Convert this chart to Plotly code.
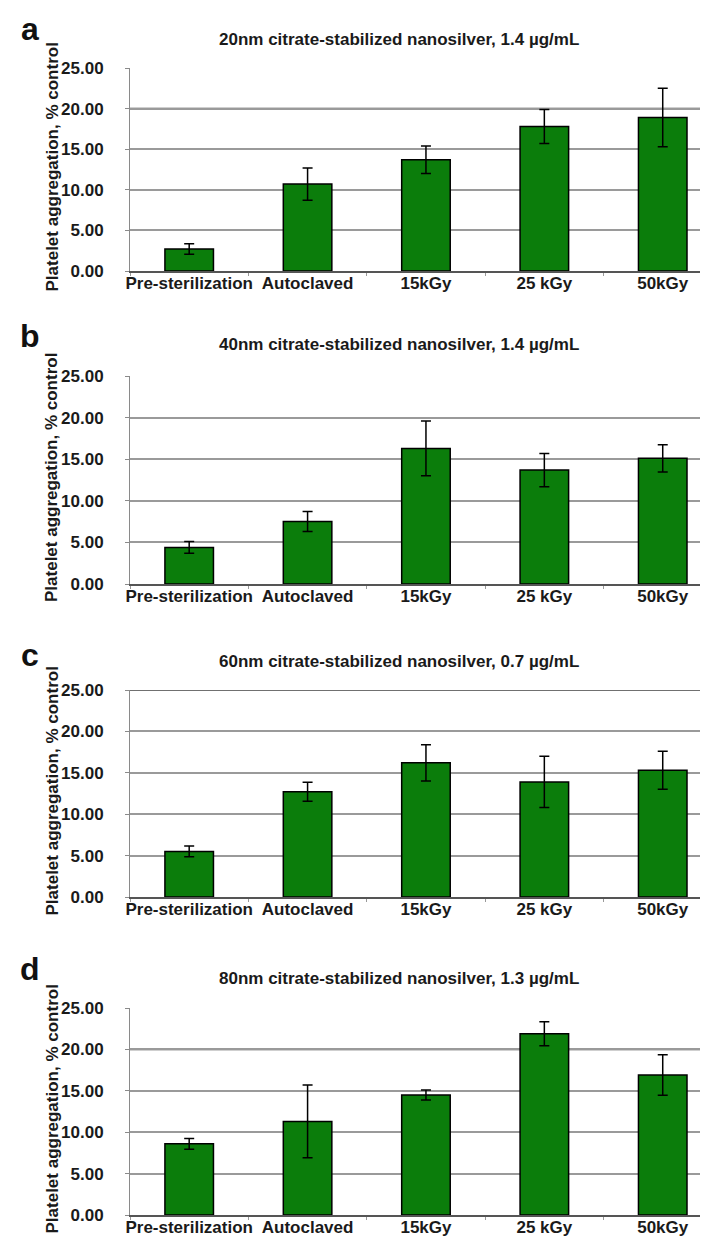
import plotly.graph_objects as go

# ---- data ----
categories = ["Pre-sterilization", "Autoclaved", "15kGy", "25 kGy", "50kGy"]
panel_letters = ["a", "b", "c", "d"]
panel_titles = [
    "20nm citrate-stabilized nanosilver, 1.4 µg/mL",
    "40nm citrate-stabilized nanosilver, 1.4 µg/mL",
    "60nm citrate-stabilized nanosilver, 0.7 µg/mL",
    "80nm citrate-stabilized nanosilver, 1.3 µg/mL",
]
values_a = [2.7, 10.7, 13.7, 17.8, 18.9]
errors_a = [0.65, 2.0, 1.7, 2.1, 3.6]
values_b = [4.4, 7.5, 16.3, 13.7, 15.1]
errors_b = [0.7, 1.2, 3.3, 2.0, 1.65]
values_c = [5.5, 12.7, 16.2, 13.9, 15.3]
errors_c = [0.65, 1.15, 2.2, 3.1, 2.3]
values_d = [8.6, 11.3, 14.5, 21.9, 16.9]
errors_d = [0.65, 4.4, 0.6, 1.45, 2.45]
y_tick_values = [0, 5, 10, 15, 20, 25]
y_tick_labels = ["0.00", "5.00", "10.00", "15.00", "20.00", "25.00"]
y_axis_title = "Platelet aggregation, % control"
dark_gridlines = [[15, 20], [], [10, 25], [15, 20]]

all_values = [values_a, values_b, values_c, values_d]
all_errors = [errors_a, errors_b, errors_c, errors_d]

# ---- layout geometry (pixels) ----
W, H = 708, 1241
plot_left = 122
panel_px = [(60, 263), (368, 576), (682, 889), (1000, 1207)]  # (top, bottom)
title_y_px = [32, 337, 653, 970]
letter_y_px = [21, 328, 647, 961]

FONT = "Liberation Sans, Arial, sans-serif"
BAR_GREEN = "#0b7d0b"

fig = go.Figure()

annotations = []
shapes = []
for i in range(4):
    n = "" if i == 0 else str(i + 1)
    xa = "x" + n
    ya = "y" + n
    top, bot = panel_px[i]
    fig.add_trace(go.Bar(
        x=categories, y=all_values[i],
        xaxis=xa, yaxis=ya,
        marker=dict(color=BAR_GREEN, line=dict(color="black", width=1.5)),
        error_y=dict(type="data", array=all_errors[i], visible=True,
                     color="black", thickness=1.5, width=5),
        showlegend=False,
    ))
    dom_y = [1 - bot / H, 1 - top / H]
    fig.layout["xaxis" + n] = dict(
        domain=[plot_left / W, 1], anchor=ya, type="category",
        range=[-0.5, 4.45], showgrid=False, automargin=False,
        showline=True, linecolor="#555555", linewidth=1.5,
        ticks="outside", tickson="boundaries", ticklen=3, tickcolor="#999999",
        tickangle=0,
        tickfont=dict(family=FONT, size=17, color="#1a1a1a", weight="bold"),
        ticklabelstandoff=-4,
    )
    fig.layout["yaxis" + n] = dict(
        domain=dom_y, anchor=xa, range=[0, 25], automargin=False,
        tickvals=y_tick_values, ticktext=y_tick_labels,
        showgrid=True, gridcolor="#9a9a9a", gridwidth=1.5,
        showline=True, linecolor="#8a8a8a", linewidth=1,
        zeroline=False,
        ticks="outside", ticklen=4, tickcolor="#8a8a8a",
        tickfont=dict(family=FONT, size=17, color="#1a1a1a", weight="bold"),
        ticklabelstandoff=18,
    )
    for gv in dark_gridlines[i]:
        shapes.append(dict(type="line", xref=xa + " domain", yref=ya,
                           x0=0, x1=1, y0=gv, y1=gv,
                           line=dict(color="#404040", width=1.5), layer="below"))
    # panel title
    annotations.append(dict(
        text="<b>" + panel_titles[i] + "</b>", xref="paper", yref="paper",
        x=391 / W, y=1 - title_y_px[i] / H, xanchor="center", yanchor="middle",
        showarrow=False, font=dict(family=FONT, size=17, color="#1a1a1a"),
    ))
    # panel letter
    annotations.append(dict(
        text="<b>" + panel_letters[i] + "</b>", xref="paper", yref="paper",
        x=22 / W, y=1 - letter_y_px[i] / H, xanchor="center", yanchor="middle",
        showarrow=False, font=dict(family=FONT, size=32, color="#111111"),
    ))
    # y axis title
    annotations.append(dict(
        text="<b>" + y_axis_title + "</b>", xref="paper", yref="paper",
        x=44 / W, y=1 - ((top + bot) / 2 - 2) / H, xanchor="center", yanchor="middle",
        textangle=-90, showarrow=False,
        font=dict(family=FONT, size=17, color="#1a1a1a"),
    ))

fig.update_layout(
    width=W, height=H,
    margin=dict(l=0, r=0, t=0, b=0),
    paper_bgcolor="white", plot_bgcolor="white",
    bargap=0.59,
    annotations=annotations, shapes=shapes,
)

fig.write_html("out.html")
